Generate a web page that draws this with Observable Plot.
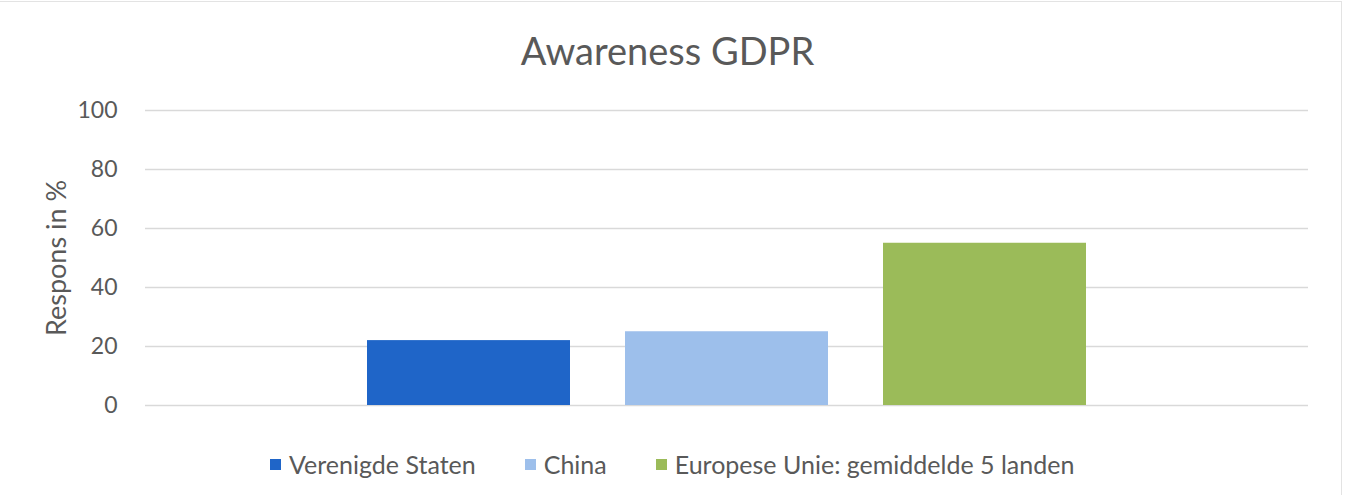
<!DOCTYPE html>
<html>
<head>
<meta charset="utf-8">
<script src="https://cdn.jsdelivr.net/npm/d3@7"></script>
<script src="https://cdn.jsdelivr.net/npm/@observablehq/plot@0.6"></script>
<style>
  html, body { margin: 0; padding: 0; background: #fff; }
  #wrap { position: relative; width: 1353px; height: 495px; overflow: hidden; font-family: Lato, "Open Sans", sans-serif; color: #595959; }
  #frame { position: absolute; left: -5px; top: 1px; width: 1347px; height: 520px; border: 1px solid #e3e3e3; box-sizing: border-box; }
  #title { position: absolute; left: 0; width: 1335px; top: 26px; text-align: center; font-size: 38px; line-height: 48px; color: #595959; }
  #legend { position: absolute; top: 448px; left: 270px; display: flex; align-items: center; font-size: 25px; line-height: 32px; color: #595959; white-space: nowrap; }
  .item { display: flex; align-items: center; margin-right: 49px; }
  .sw { width: 11px; height: 11px; margin-right: 8px; }
  #chart { position: absolute; left: 0; top: 0; }
</style>
</head>
<body>
<div id="wrap">
  <div id="frame"></div>
  <div id="chart"></div>
  <div id="title"></div>
  <div id="legend"></div>
</div>
<script>
const title = "Awareness GDPR";
const yLabel = "Respons in %";
const series = ["Verenigde Staten", "China", "Europese Unie: gemiddelde 5 landen"];
const values = [22, 25, 55];
const colors = ["#1f65c8", "#9dbfeb", "#9bbb59"];
const yTicks = [0, 20, 40, 60, 80, 100];

const data = series.map((s, i) => ({series: s, value: values[i]}));

document.getElementById("title").textContent = title;

const plot = Plot.plot({
  width: 1353,
  height: 495,
  marginLeft: 145,
  marginRight: 45,
  marginTop: 110,
  marginBottom: 90,
  style: {fontFamily: "Lato, 'Open Sans', sans-serif", fontSize: "24px", color: "#595959", background: "transparent"},
  x: {domain: series, paddingInner: 0.213, paddingOuter: 0.86, axis: null},
  y: {domain: [0, 100], ticks: yTicks, label: null},
  color: {domain: series, range: colors},
  marks: [
    Plot.gridY(yTicks, {stroke: "#d9d9d9", strokeOpacity: 1, strokeWidth: 1.5}),
    Plot.axisY({ticks: yTicks, tickSize: 0, tickPadding: 28, fontSize: 23, fill: "#595959", label: null}),
    Plot.barY(data, {x: "series", y: "value", fill: "series"}),
    Plot.text([yLabel], {frameAnchor: "left", textAnchor: "middle", dx: -88, rotate: -90, fontSize: 27, fill: "#595959"})
  ]
});
document.getElementById("chart").appendChild(plot);

const lg = document.getElementById("legend");
series.forEach((s, i) => {
  const it = document.createElement("div");
  it.className = "item";
  const sw = document.createElement("div");
  sw.className = "sw";
  sw.style.background = colors[i];
  const t = document.createElement("span");
  t.textContent = s;
  it.appendChild(sw); it.appendChild(t);
  lg.appendChild(it);
});
</script>
</body>
</html>
